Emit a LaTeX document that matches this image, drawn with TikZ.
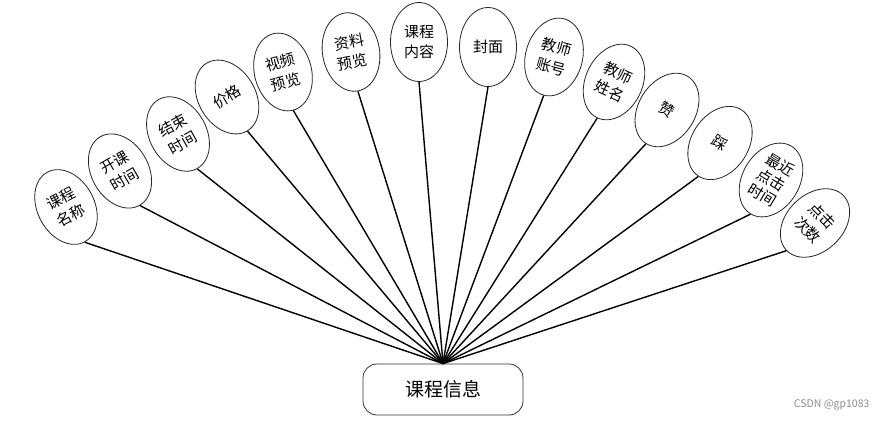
\documentclass[tikz,border=0pt]{standalone}
\usepackage{fontspec}
\setmainfont{Noto Sans CJK SC}
\usetikzlibrary{shapes.geometric,positioning}

\begin{document}
\begin{tikzpicture}[
    x=1pt, y=-1pt,
    attr/.style={ellipse, draw=black!85, line width=0.8pt, fill=white, minimum width=57pt, minimum height=79pt, inner sep=0pt, align=center, font=\fontsize{15}{20}\selectfont},
    entity/.style={rectangle, rounded corners=14pt, draw=black!80, line width=0.8pt, minimum width=160pt, minimum height=51pt, font=\fontsize{19}{22}\selectfont},
    link/.style={line width=1.4pt}
]
\useasboundingbox (0,0) rectangle (888,422);

% Entity
\node[entity] (info) at (443,389.5) {课程信息};

% Attributes, left to right
\node[attr, rotate=28] (name) at (66,207) {课程\\名称};
\node[attr, rotate=30] (start) at (120,171) {开课\\时间};
\node[attr, rotate=29] (finish) at (178,134) {结束\\时间};
\node[attr, rotate=31] (price) at (227,97) {价格};
\node[attr, rotate=15] (video) at (283,72) {视频\\预览};
\node[attr, rotate=10] (material) at (351,52) {资料\\预览};
\node[attr] (content) at (419,42) {课程\\内容};
\node[attr] (cover) at (488,47) {封面};
\node[attr, rotate=-15] (tacct) at (554,57) {教师\\账号};
\node[attr, rotate=-25] (tname) at (614,82) {教师\\姓名};
\node[attr, rotate=-32] (like) at (667,110) {赞};
\node[attr, rotate=-33] (dislike) at (720,143) {踩};
\node[attr, rotate=-31, font=\fontsize{15}{17.5}\selectfont] (lastclick) at (771,180) {最近\\点击\\时间};
\node[attr, rotate=-46] (clicks) at (815,223) {点击\\次数};

% Links to the entity
\foreach \a in {name,start,finish,price,video,material,content,cover,tacct,tname,like,dislike,lastclick,clicks}
    \draw[link] (\a.south) -- (info.north);

% Watermark
\node[font=\fontsize{10.5}{12}\selectfont, text=black!45, anchor=east] (mark) at (873,405) {CSDN @gp1083};
\end{tikzpicture}
\end{document}
